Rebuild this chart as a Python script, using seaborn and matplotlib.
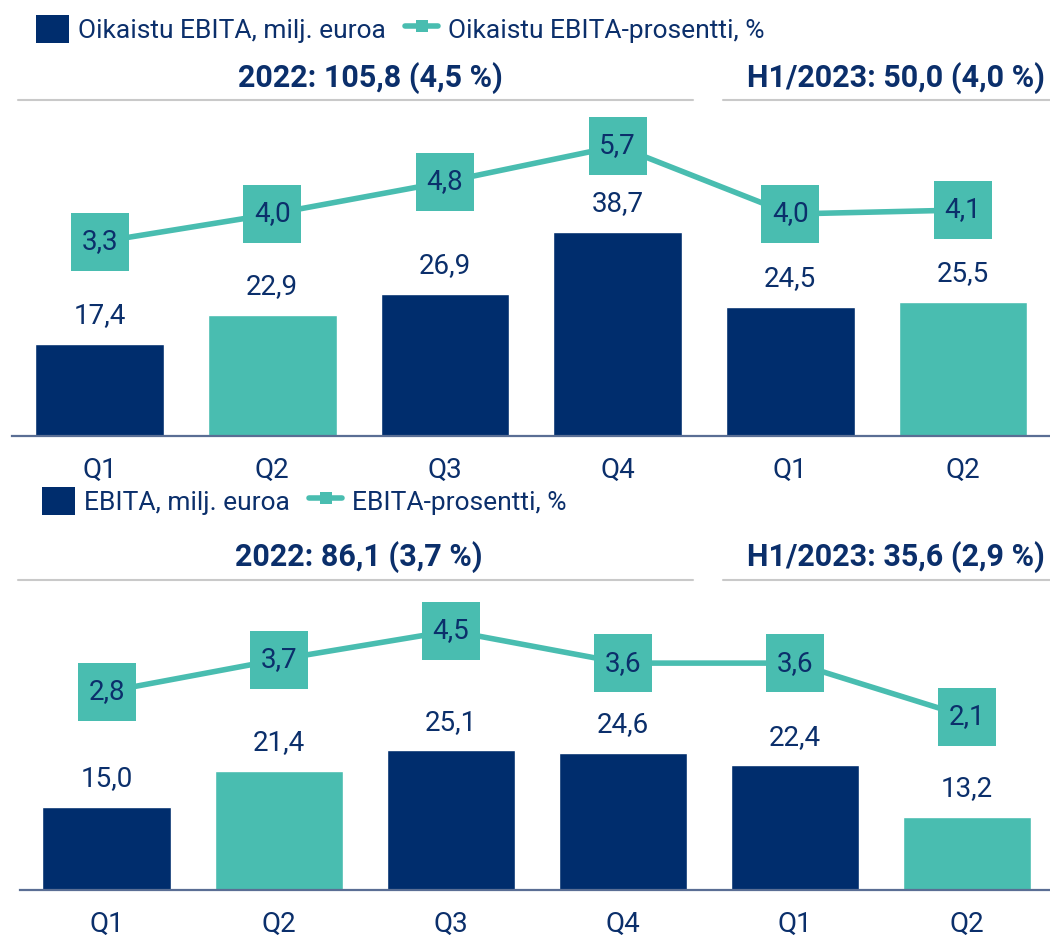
import seaborn as sns
import matplotlib.pyplot as plt
from matplotlib.lines import Line2D
from matplotlib.patches import Patch
import pandas as pd

# data
periods = ["2022 Q1", "2022 Q2", "2022 Q3", "2022 Q4", "2023 Q1", "2023 Q2"]
quarters = ["Q1", "Q2", "Q3", "Q4", "Q1", "Q2"]
adj_ebita = [17.4, 22.9, 26.9, 38.7, 24.5, 25.5]
adj_ebita_pct = [3.3, 4.0, 4.8, 5.7, 4.0, 4.1]
ebita = [15.0, 21.4, 25.1, 24.6, 22.4, 13.2]
ebita_pct = [2.8, 3.7, 4.5, 3.6, 3.6, 2.1]
headers_top = ["2022: 105,8 (4,5 %)", "H1/2023: 50,0 (4,0 %)"]
headers_bottom = ["2022: 86,1 (3,7 %)", "H1/2023: 35,6 (2,9 %)"]

NAVY = "#002D6D"
TEAL = "#49BDB0"
TXT = "#0B2F6B"
GREY = "#C9C9C9"
AXIS = "#5A6E94"
bar_colors = [NAVY, TEAL, NAVY, NAVY, NAVY, TEAL]

sns.set_theme(style="white")
plt.rcParams["font.family"] = ["Liberation Sans Narrow", "Roboto", "DejaVu Sans"]

W, H = 1050, 941
fig = plt.figure(figsize=(W / 100, H / 100), dpi=100)


def px(x, y):
    return x / W, 1 - y / H


def fmt(v):
    return f"{v:.1f}".replace(".", ",")


def panel(rect, xlim, bar_top, line_lim, bars, pct):
    ax = fig.add_axes(rect)
    df = pd.DataFrame({"period": periods, "value": bars})
    sns.barplot(data=df, x="period", y="value", hue="period",
                palette=dict(zip(periods, bar_colors)), width=0.745,
                legend=False, ax=ax, saturation=1)
    ax.set_xlim(*xlim)
    ax.set_ylim(0, bar_top)
    ax.set_xticks(range(len(quarters)))
    ax.set_xticklabels(quarters, color=TXT, fontsize=20)
    ax.tick_params(axis="x", length=0, pad=15)
    ax.set_yticks([])
    ax.set_xlabel("")
    ax.set_ylabel("")
    for s in ["top", "left", "right"]:
        ax.spines[s].set_visible(False)
    ax.spines["bottom"].set_color(AXIS)
    ax.spines["bottom"].set_linewidth(1.6)
    for i, v in enumerate(bars):
        ax.annotate(fmt(v), (i, v), xytext=(0, 15), textcoords="offset points",
                    ha="center", va="baseline", color=TXT, fontsize=20)

    ax2 = ax.twinx()
    sns.lineplot(x=list(range(len(pct))), y=pct, ax=ax2, color=TEAL,
                 linewidth=4, marker="s", markersize=42,
                 markeredgewidth=0, markerfacecolor=TEAL)
    ax2.set_ylim(*line_lim)
    ax2.set_xlim(*xlim)
    ax2.set_yticks([])
    ax2.set_ylabel("")
    for s in ax2.spines.values():
        s.set_visible(False)
    for i, v in enumerate(pct):
        ax2.text(i, v, fmt(v), ha="center", va="center", color=TXT, fontsize=20)
    return ax


# top panel: adjusted EBITA
l, b = px(12, 436)
panel([l, b, 1038 / W, 326 / H], (-0.507, 5.504), 61.86, (-1.55, 6.6),
      adj_ebita, adj_ebita_pct)

# bottom panel: EBITA
l, b = px(20, 890)
panel([l, b, 1030 / W, 300 / H], (-0.503, 5.482), 53.96, (-2.737, 5.642),
      ebita, ebita_pct)


def header(texts, x_left, y_text, y_line):
    fig.text(*px(x_left, y_text), texts[0], ha="center", va="center",
             color=TXT, fontsize=22, fontweight="bold")
    fig.text(*px(896, y_text), texts[1], ha="center", va="center",
             color=TXT, fontsize=22, fontweight="bold")
    for x0, x1 in [(18, 693), (723, 1050)]:
        fig.add_artist(Line2D([x0 / W, x1 / W], [1 - y_line / H] * 2,
                              transform=fig.transFigure, color=GREY, lw=1.5))


header(headers_top, 370, 78, 100)
header(headers_bottom, 359, 557, 580)


def legend(labels, x, y):
    handles = [Patch(facecolor=NAVY, edgecolor="none"),
               Line2D([], [], color=TEAL, lw=4, marker="s", markersize=9,
                      markeredgewidth=0)]
    fig.legend(handles, labels, loc="center left", bbox_to_anchor=px(x, y),
               ncol=2, frameon=False, fontsize=19, labelcolor=TXT,
               handlelength=1.25, handleheight=1.25, handletextpad=0.35,
               columnspacing=0.75, borderaxespad=0)


legend(["Oikaistu EBITA, milj. euroa", "Oikaistu EBITA-prosentti, %"], 25, 29)
legend(["EBITA, milj. euroa", "EBITA-prosentti, %"], 31, 501)

fig.savefig("out.png", dpi=100)
